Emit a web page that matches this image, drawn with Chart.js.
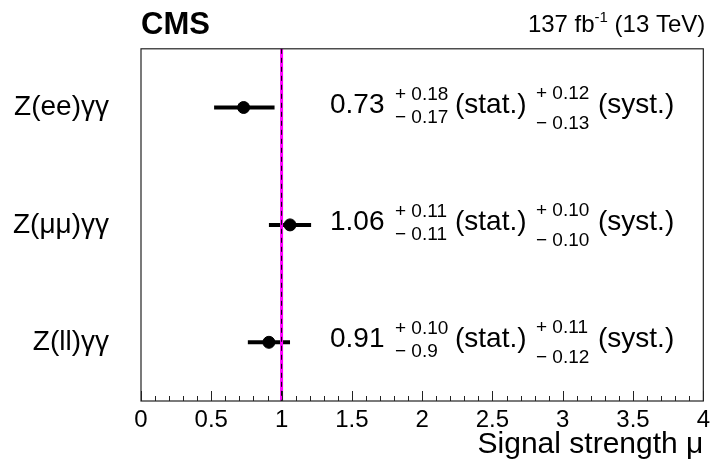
<!DOCTYPE html>
<html>
<head>
<meta charset="utf-8">
<script src="https://cdn.jsdelivr.net/npm/chart.js@4.4.1/dist/chart.umd.min.js"></script>
<style>
    body { margin: 0; background: #fff; }
    #wrap { width: 715px; height: 465px; }
</style>
</head>
<body>
<div id="wrap"><canvas id="muChart" width="715" height="465"></canvas></div>
<script>
// channels, top to bottom
var channels = ['Z(ee)γγ', 'Z(μμ)γγ', 'Z(ll)γγ'];
// best fit signal strength
var mu = [0.73, 1.06, 0.91];
// ends of the total uncertainty bars
var muLow = [0.52, 0.91, 0.76];
var muHigh = [0.95, 1.21, 1.06];
// printed uncertainties
var statUp = ['0.18', '0.11', '0.10'];
var statDown = ['0.17', '0.11', '0.9'];
var systUp = ['0.12', '0.10', '0.11'];
var systDown = ['0.13', '0.10', '0.12'];
// x axis
var xTicks = [0, 0.5, 1, 1.5, 2, 2.5, 3, 3.5, 4];
var smValue = 1;

var FONT = '"Liberation Sans", Arial, Helvetica, sans-serif';

// point dataset first so it is drawn on top of the bars
var datasets = [{
    label: 'mu',
    data: mu.map(function (v, i) { return {x: v, y: channels[i]}; }),
    backgroundColor: '#000',
    borderColor: '#000',
    pointRadius: 6,
    pointHoverRadius: 6,
    showLine: false
}];
channels.forEach(function (c, i) {
    datasets.push({
        label: 'err ' + c,
        data: [{x: muLow[i], y: c}, {x: muHigh[i], y: c}],
        borderColor: '#000',
        borderWidth: 4,
        pointRadius: 0,
        showLine: true
    });
});

// frame, inward ticks, SM line, and the text
var decorations = {
    id: 'decorations',
    afterDatasetsDraw: function (chart) {
        var ctx = chart.ctx, a = chart.chartArea;
        var xp = chart.scales.x.getPixelForValue(smValue);
        ctx.save();
        ctx.strokeStyle = '#ff00ff';
        ctx.lineWidth = 3;
        ctx.beginPath();
        ctx.moveTo(xp, a.top);
        ctx.lineTo(xp, a.bottom);
        ctx.stroke();
        ctx.strokeStyle = '#000';
        ctx.lineWidth = 1;
        ctx.setLineDash([5, 4]);
        ctx.beginPath();
        ctx.moveTo(xp, a.top);
        ctx.lineTo(xp, a.bottom);
        ctx.stroke();
        ctx.restore();
    },
    afterDraw: function (chart) {
        var ctx = chart.ctx, a = chart.chartArea;
        var xs = chart.scales.x, ys = chart.scales.y;
        ctx.save();
        ctx.strokeStyle = '#222';
        ctx.lineWidth = 1.2;
        ctx.strokeRect(a.left, a.top, a.right - a.left, a.bottom - a.top);

        // ticks pointing into the frame
        ctx.lineWidth = 1;
        for (var k = 0; k <= 40; k++) {
            var px = Math.round(xs.getPixelForValue(k / 10)) + 0.5;
            var len = (k % 5 === 0) ? 10 : 5;
            ctx.beginPath();
            ctx.moveTo(px, a.bottom);
            ctx.lineTo(px, a.bottom - len);
            ctx.stroke();
        }

        ctx.fillStyle = '#000';
        ctx.textBaseline = 'alphabetic';
        ctx.textAlign = 'left';

        // results text
        channels.forEach(function (c, i) {
            var y = ys.getPixelForValue(i);
            ctx.font = '28px ' + FONT;
            ctx.fillText(mu[i].toFixed(2), 330, y + 5);
            ctx.fillText('(stat.)', 455, y + 5);
            ctx.fillText('(syst.)', 598, y + 5);
            ctx.font = '19px ' + FONT;
            ctx.fillText('+ ' + statUp[i], 395, y - 8);
            ctx.fillText('\u2212 ' + statDown[i], 395, y + 15);
            ctx.fillText('+ ' + systUp[i], 536, y - 9);
            ctx.fillText('\u2212 ' + systDown[i], 536, y + 21);
        });

        // CMS label
        ctx.font = 'bold 31px ' + FONT;
        ctx.fillText('CMS', 141, 34);

        // luminosity label, right aligned to the frame
        var p1 = '137 fb', p2 = '-1', p3 = ' (13 TeV)';
        ctx.font = '24px ' + FONT;
        var w1 = ctx.measureText(p1).width, w3 = ctx.measureText(p3).width;
        ctx.font = '15px ' + FONT;
        var w2 = ctx.measureText(p2).width;
        var x0 = a.right + 2 - w1 - w2 - w3;
        ctx.font = '24px ' + FONT;
        ctx.fillText(p1, x0, 32);
        ctx.fillText(p3, x0 + w1 + w2, 32);
        ctx.font = '15px ' + FONT;
        ctx.fillText(p2, x0 + w1, 22);
        ctx.restore();
    }
};

var chart = new Chart(document.getElementById('muChart'), {
    type: 'scatter',
    data: {datasets: datasets},
    options: {
        responsive: false,
        animation: false,
        devicePixelRatio: 1,
        layout: {padding: {top: 42, right: 9, bottom: 0, left: 0}},
        plugins: {legend: {display: false}, tooltip: {enabled: false}},
        scales: {
            x: {
                type: 'linear',
                min: 0,
                max: 4,
                afterBuildTicks: function (s) {
                    s.ticks = xTicks.map(function (v) { return {value: v}; });
                },
                afterFit: function (s) { s.height = 64; },
                grid: {display: false, drawTicks: false},
                border: {display: false},
                ticks: {
                    color: '#000',
                    padding: 5,
                    maxRotation: 0,
                    font: {family: FONT, size: 24},
                    callback: function (v) { return String(v); }
                },
                title: {
                    display: true,
                    text: 'Signal strength μ',
                    align: 'end',
                    color: '#000',
                    font: {family: FONT, size: 30},
                    padding: {top: 0, bottom: 2}
                }
            },
            y: {
                type: 'category',
                labels: channels,
                offset: true,
                afterFit: function (s) { s.width = 141; },
                grid: {display: false, drawTicks: false},
                border: {display: false},
                ticks: {
                    color: '#000',
                    padding: 32,
                    font: {family: FONT, size: 28}
                }
            }
        }
    },
    plugins: [decorations]
});
</script>
</body>
</html>
